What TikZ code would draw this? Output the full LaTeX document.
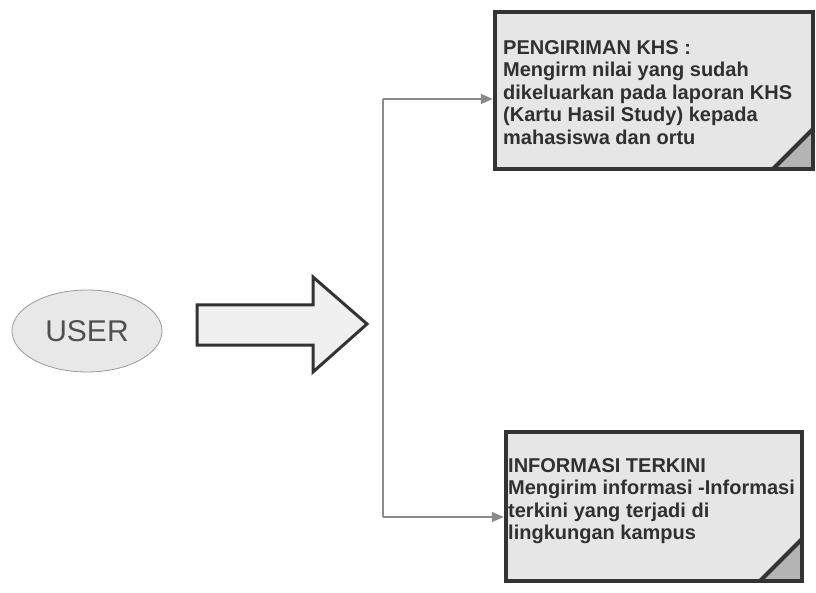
\documentclass[tikz,border=0pt]{standalone}
\usepackage{fontspec}
\setmainfont{Liberation Sans}
\usetikzlibrary{arrows.meta,shapes.geometric}

\definecolor{boxline}{HTML}{333333}
\definecolor{boxfill}{HTML}{E6E6E6}
\definecolor{foldfill}{HTML}{B4B4B4}
\definecolor{inktext}{HTML}{303030}
\definecolor{linkgray}{HTML}{8A8A8A}
\definecolor{userfill}{HTML}{E8E8E8}

\tikzset{
  notebox/.style={rectangle, draw=boxline, line width=4.5pt, fill=boxfill, inner sep=0pt,
    path picture={
      \fill[foldfill] ([xshift=-#1]path picture bounding box.south east)
        -- ([yshift=#1]path picture bounding box.south east)
        -- (path picture bounding box.south east) -- cycle;
      \draw[boxline, line width=4pt] ([xshift=-#1]path picture bounding box.south east)
        -- ([yshift=#1]path picture bounding box.south east);
    }},
  notetext/.style={anchor=north west, inner sep=0pt, align=left, text=inktext,
    font=\bfseries\fontsize{20}{22.5}\selectfont},
  usernode/.style={ellipse, draw=gray!80, line width=0.8pt, fill=userfill,
    minimum width=150pt, minimum height=82pt, inner sep=0pt, text=inktext!85,
    font=\fontsize{30}{34}\selectfont},
  bigarrow/.style={draw=boxline, line width=3pt, fill=gray!12, line join=miter},
  link/.style={draw=linkgray, line width=1.8pt, -{Triangle[length=12pt, width=10pt]}},
}

\begin{document}
\begin{tikzpicture}[x=1pt, y=-1pt]
  \useasboundingbox (0,0) rectangle (816,593);

  % user ellipse
  \node[usernode] (user) at (87,331) {USER};

  % block arrow
  \path[bigarrow] (197,305) -- (313,305) -- (313,277) -- (367,324)
    -- (313,372) -- (313,345) -- (197,345) -- cycle;
  \coordinate (split) at (383,324);

  % note boxes
  \node[notebox=40pt, minimum width=318pt, minimum height=157pt] (khs) at (654,90.5) {};
  \node[notetext] (khstext) at (503,40) {PENGIRIMAN KHS :\\Mengirm nilai yang sudah\\dikeluarkan pada laporan KHS\\(Kartu Hasil Study) kepada\\mahasiswa dan ortu};

  \node[notebox=42pt, minimum width=296pt, minimum height=149pt] (info) at (654,506.5) {};
  \node[notetext] (infotext) at (508,458) {INFORMASI TERKINI\\Mengirim informasi -Informasi\\terkini yang terjadi di\\lingkungan kampus};

  % connectors
  \coordinate (topbend) at (383,99);
  \coordinate (botbend) at (383,517);
  \draw[link] (topbend) -- (topbend -| khs.west);
  \draw[link] (botbend) -- (botbend -| info.west);
  \draw[draw=linkgray, line width=1.8pt] (topbend) -- (botbend);
\end{tikzpicture}
\end{document}
